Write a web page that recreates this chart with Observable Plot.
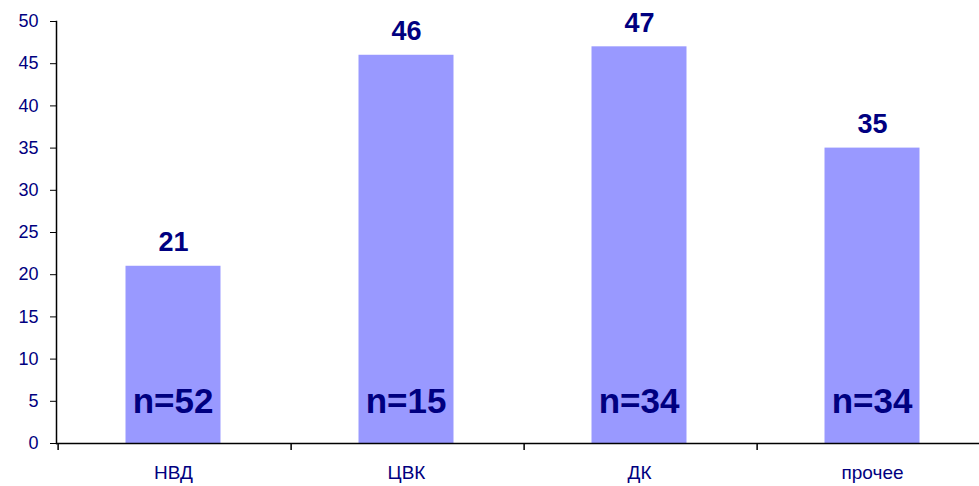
<!DOCTYPE html>
<html>
<head>
<meta charset="utf-8">
<script src="https://cdn.jsdelivr.net/npm/d3@7"></script>
<script src="https://cdn.jsdelivr.net/npm/@observablehq/plot@0.6"></script>
<style>
  html, body { margin: 0; padding: 0; background: #fff; overflow: hidden; }
  #chart { width: 979px; height: 486px; overflow: hidden; }
  #chart svg { max-width: none !important; width: 991px !important; height: 486px !important; }
</style>
</head>
<body>
<div id="chart"></div>
<script>
const categories = ["НВД", "ЦВК", "ДК", "прочее"];
const values = [21, 46, 47, 35];
const nLabels = ["n=52", "n=15", "n=34", "n=34"];
const yTicks = [0, 5, 10, 15, 20, 25, 30, 35, 40, 45, 50];

const data = categories.map((c, i) => ({cat: c, value: values[i], n: nLabels[i]}));

const W = 991, H = 486, ML = 56, MR = 0;
const step = (W - ML - MR) / categories.length;
const navy = "#000080";

const chart = Plot.plot({
  width: W,
  height: H,
  marginLeft: ML,
  marginRight: MR,
  marginTop: 21,
  marginBottom: 43,
  style: {fontFamily: "Liberation Sans, Arial, sans-serif", background: "#fff", maxWidth: "none"},
  x: {domain: categories, paddingInner: 0.594, paddingOuter: 0.297, label: null},
  y: {domain: [0, 50], label: null},
  marks: [
    Plot.barY(data, {x: "cat", y: "value", fill: "#9999FF", dx: -1.5}),
    Plot.ruleY([0], {stroke: "black", strokeWidth: 1.5}),
    Plot.frame({anchor: "left", stroke: "black", strokeWidth: 1.5}),
    Plot.ruleX(categories, {x: d => d, y1: 0, y2: 0, insetBottom: -7, dx: -step / 2, stroke: "black", strokeWidth: 1.5}),
    Plot.axisY({ticks: yTicks, tickSize: 6, tickPadding: 12, fontSize: 18, fill: navy, stroke: "black", tickFormat: d => d}),
    Plot.axisX({tickSize: 0, tickPadding: 22, fontSize: 19, fill: navy, dx: -1.5}),
    Plot.text(data, {x: "cat", y: "value", text: d => String(d.value), dx: -1.5, dy: -15, lineAnchor: "bottom", fontSize: 27, fontWeight: "bold", fill: navy}),
    Plot.text(data, {x: "cat", y: () => 5, text: "n", dx: -2, lineAnchor: "middle", fontSize: 35, fontWeight: "bold", fill: navy})
  ]
});
document.getElementById("chart").appendChild(chart);
</script>
</body>
</html>
